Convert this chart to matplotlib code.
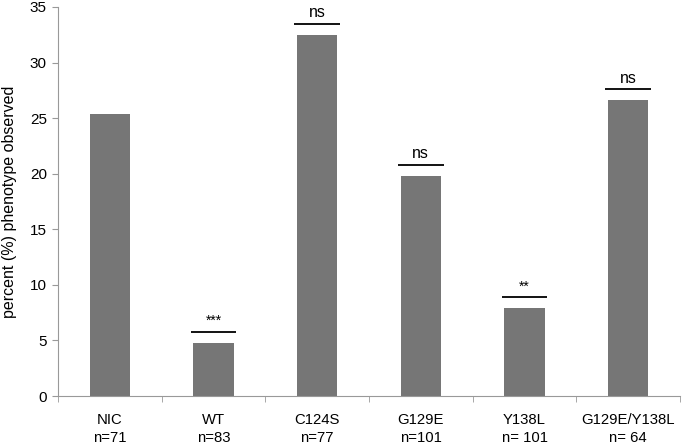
import matplotlib
matplotlib.use("Agg")
import matplotlib.pyplot as plt
import numpy as np

plt.rcParams['font.family'] = ['Liberation Sans', 'DejaVu Sans']

categories = ["NIC\nn=71", "WT\nn=83", "C124S\nn=77", "G129E\nn=101", "Y138L\nn= 101", "G129E/Y138L\nn= 64"]
values = [25.35, 4.8, 32.5, 19.8, 7.9, 26.6]
sig_labels = ["", "***", "ns", "ns", "**", "ns"]

fig = plt.figure(figsize=(6.82, 4.45), dpi=100)
ax = fig.add_axes([58/682, 1 - 396/445, (680-58)/682, (396-7)/445])

x = np.arange(len(categories))
ax.bar(x, values, width=0.39, color="#767676", zorder=2)

for xi, v, s in zip(x, values, sig_labels):
    if s:
        ax.plot([xi - 0.22, xi + 0.22], [v + 1.0, v + 1.0], color="black", lw=1.3, solid_capstyle="butt")
        ax.text(xi, v + 1.3, s, ha="center", va="bottom", fontsize=11.5 if s == "ns" else 10)

ax.set_xlim(-0.5, len(categories) - 0.5)
ax.set_ylim(0, 35)
ax.set_yticks(np.arange(0, 36, 5))
ax.set_xticks(x)
ax.set_xticklabels(categories, fontsize=10.7, linespacing=1.35)
ax.set_xticks(np.arange(-0.5, len(categories) + 0.5, 1), minor=True)
ax.tick_params(axis="x", which="major", length=0, pad=12)
ax.tick_params(axis="x", which="minor", length=4, color="#999999", direction="out")
ax.tick_params(axis="y", length=4, color="#999999", labelsize=11, pad=4)
for sp in ["top", "right"]:
    ax.spines[sp].set_visible(False)
for sp in ["left", "bottom"]:
    ax.spines[sp].set_color("#999999")
ax.set_ylabel("percent (%) phenotype observed", fontsize=11.5)
ax.yaxis.set_label_coords(-(58 - 17) / 622, 0.5)

fig.savefig("out.png", dpi=100)
